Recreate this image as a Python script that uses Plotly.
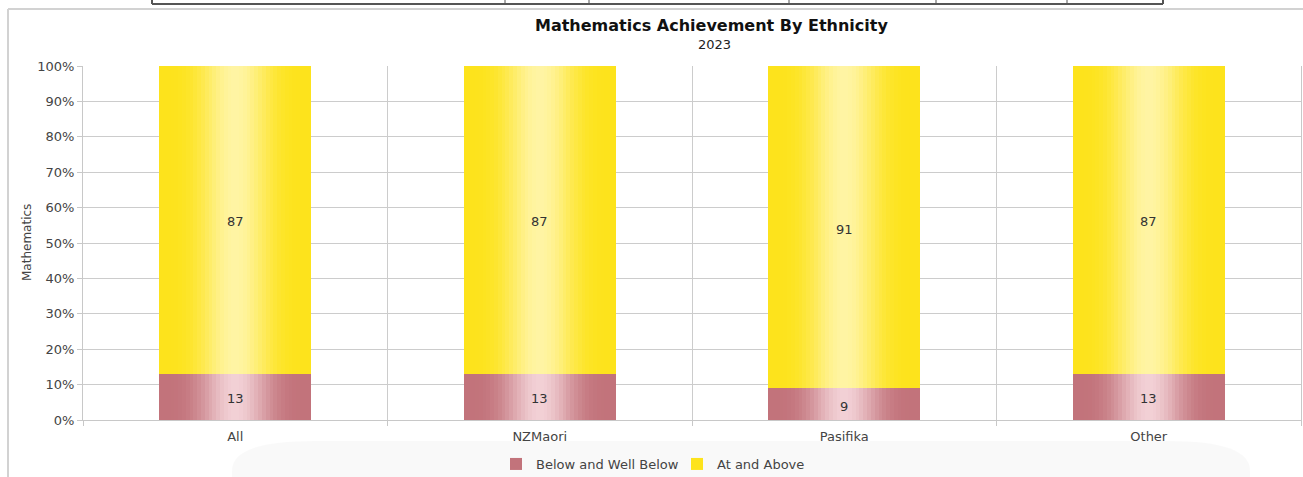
import math
import plotly.graph_objects as go

# Chart data
categories = ["All", "NZMaori", "Pasifika", "Other"]
below = [13, 13, 9, 13]
at_above = [87, 87, 91, 87]
series_names = ["Below and Well Below", "At and Above"]
y_tick_vals = [0, 10, 20, 30, 40, 50, 60, 70, 80, 90, 100]
y_tick_text = [f"{v}%" for v in y_tick_vals]

W, H = 1303, 477
ML, MR, MT, MB = 83, 2, 66, 57
PW, PH = W - ML - MR, H - MT - MB


def px_x(px):
    return (px - ML) / PW


def px_y(py):
    return (H - MB - py) / PH


def mix(c1, c2, t):
    return "rgb(%d,%d,%d)" % tuple(round(a + (b - a) * t) for a, b in zip(c1, c2))


RED_EDGE, RED_MID = (194, 115, 123), (242, 208, 213)
YEL_EDGE, YEL_MID = (253, 227, 28), (255, 244, 163)

xpos = list(range(len(categories)))
BAR_W = 0.5
N = 40
step = BAR_W / N

fig = go.Figure()

# Each stacked bar is drawn as thin vertical slices so its colour can shade
# from the edges to a lighter centre.
for name, vals, bases, edge, mid in [
    (series_names[0], below, [0] * len(below), RED_EDGE, RED_MID),
    (series_names[1], at_above, below, YEL_EDGE, YEL_MID),
]:
    for k in range(N):
        t = (k + 0.5) / N
        p = math.sin(math.pi * t) ** 4
        fig.add_trace(go.Bar(
            x=xpos, y=vals, base=bases,
            width=step * (1.0 if k == N - 1 else 1.15),
            offset=-BAR_W / 2 + k * step,
            marker=dict(color=mix(edge, mid, p), line=dict(width=0)),
            name=name, legendgroup=name, showlegend=(k == 0),
            hoverinfo="skip",
        ))

annotations = []
# Value labels centred in each segment
for i, (b, a) in enumerate(zip(below, at_above)):
    for val, centre in [(b, b / 2), (a, b + a / 2)]:
        annotations.append(dict(
            x=xpos[i], y=centre, xref="x", yref="y", text=str(val),
            showarrow=False, xanchor="center", yanchor="middle", yshift=-2,
            font=dict(family="DejaVu Sans", size=13, color="#333333"),
        ))

shapes = []
# Soft backdrop behind the legend
x0, x1, y0 = px_x(232), px_x(1250), px_y(441)
yb = px_y(490)
rx, ry = (x1 - x0) * 0.08, (y0 - yb) * 0.6
shapes.append(dict(
    type="path", xref="paper", yref="paper", layer="below",
    path=(f"M {x0} {yb} L {x0} {y0 - ry} Q {x0} {y0} {x0 + rx} {y0} "
          f"L {x1 - rx} {y0} Q {x1} {y0} {x1} {y0 - ry} L {x1} {yb} Z"),
    fillcolor="rgba(0,0,0,0.025)", line=dict(width=0),
))
# Outer panel border
shapes.append(dict(type="line", xref="paper", yref="paper",
                   x0=px_x(8), x1=px_x(W + 5), y0=px_y(9), y1=px_y(9),
                   line=dict(color="#d2d2d2", width=2)))
shapes.append(dict(type="line", xref="paper", yref="paper",
                   x0=px_x(8), x1=px_x(8), y0=px_y(9), y1=px_y(H + 5),
                   line=dict(color="#d2d2d2", width=2)))
# Table edge above the panel
shapes.append(dict(type="line", xref="paper", yref="paper",
                   x0=px_x(152), x1=px_x(1163), y0=px_y(4), y1=px_y(4),
                   line=dict(color="#555555", width=2)))
for vx in [152, 505, 589, 789, 936, 1067, 1163]:
    shapes.append(dict(type="line", xref="paper", yref="paper",
                       x0=px_x(vx), x1=px_x(vx), y0=px_y(-5), y1=px_y(4),
                       line=dict(color="#555555", width=2 if vx in (152, 1163) else 1)))

annotations += [
    dict(text="<b>Mathematics Achievement By Ethnicity</b>", xref="paper", yref="paper",
         x=px_x(711), y=px_y(25), xanchor="center", yanchor="middle", showarrow=False,
         font=dict(family="DejaVu Sans", size=16, color="#111111")),
    dict(text="2023", xref="paper", yref="paper", x=px_x(714), y=px_y(45),
         xanchor="center", yanchor="middle",
         showarrow=False, font=dict(family="DejaVu Sans", size=13, color="#222222")),
    dict(text="Mathematics", xref="paper", yref="paper", x=px_x(27), y=px_y(243),
         xanchor="center", yanchor="middle", textangle=-90, showarrow=False,
         font=dict(family="DejaVu Sans", size=12, color="#444444")),
]

fig.update_layout(
    width=W, height=H,
    margin=dict(l=ML, r=MR, t=MT, b=MB, pad=0, autoexpand=False),
    paper_bgcolor="white", plot_bgcolor="white",
    barmode="overlay", bargap=0,
    font=dict(family="DejaVu Sans", size=13, color="#444444"),
    shapes=shapes, annotations=annotations,
    legend=dict(orientation="h", x=px_x(677), xanchor="center",
                y=px_y(464), yanchor="middle", entrywidth=136,
                font=dict(family="DejaVu Sans", size=13, color="#444444"),
                bgcolor="rgba(0,0,0,0)", itemclick=False, itemdoubleclick=False),
    xaxis=dict(
        range=[-0.5, 3.5], tickvals=xpos, ticktext=categories, ticks="",
        ticklabelstandoff=4,
        showgrid=False, zeroline=False, showline=True, linecolor="#c8c8c8",
        linewidth=1, tickfont=dict(size=13, color="#444444"),
        minor=dict(tickvals=[-0.5, 0.5, 1.5, 2.5, 3.5], showgrid=True,
                   gridcolor="#cccccc", gridwidth=1, ticks="outside",
                   ticklen=5, tickcolor="#c8c8c8"),
        fixedrange=True,
    ),
    yaxis=dict(
        range=[0, 100], tickvals=y_tick_vals, ticktext=y_tick_text,
        ticks="outside", ticklen=5, tickcolor="#c8c8c8",
        showgrid=True, gridcolor="#cccccc", gridwidth=1, zeroline=False,
        showline=True, linecolor="#c8c8c8", linewidth=1, mirror=True,
        tickfont=dict(size=13, color="#444444"), fixedrange=True,
    ),
)

fig.write_html("out.html", config={"displayModeBar": False})
